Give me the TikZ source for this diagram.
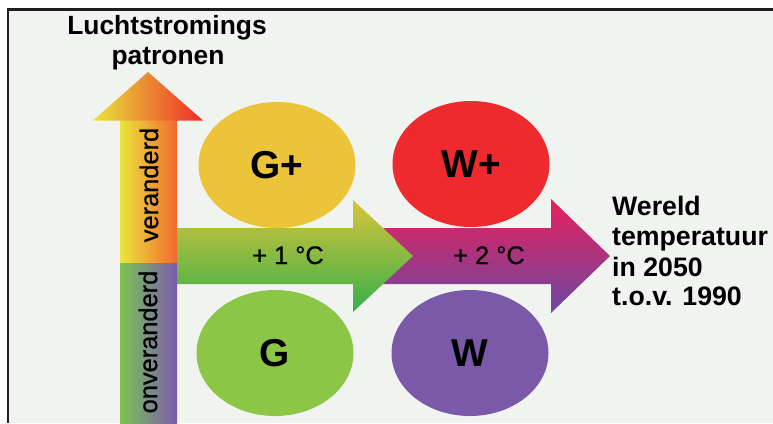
\documentclass[tikz,border=0pt]{standalone}
\usepackage{fontspec}
\setmainfont{Liberation Sans}
\newfontfamily\semibf[FakeBold=0.7]{Liberation Sans}
\usetikzlibrary{shapes.geometric}
\definecolor{bgc}{HTML}{F1F3F1}
\definecolor{gplus}{HTML}{EBC43A}
\definecolor{wplus}{HTML}{EE2A2E}
\definecolor{gcol}{HTML}{8CC646}
\definecolor{wcol}{HTML}{7A5AA8}
\definecolor{yel}{HTML}{E9E53B}
\definecolor{ora}{HTML}{F2A533}
\definecolor{orared}{HTML}{F26A2E}
\definecolor{redd}{HTML}{EE2A2A}
\definecolor{lgreen}{HTML}{7CC354}
\definecolor{lpurple}{HTML}{7A5AB0}
\definecolor{aonetop}{HTML}{D8C43A}
\definecolor{aonemid}{HTML}{A2CB47}
\definecolor{aonebot}{HTML}{36B04A}
\definecolor{atwotop}{HTML}{E8205A}
\definecolor{atwomid}{HTML}{BE349C}
\definecolor{atwobot}{HTML}{6C48A4}
\tikzset{
  blob/.style={ellipse, minimum width=157bp, minimum height=126bp, inner sep=0pt,
    font=\fontsize{39}{40}\selectfont\bfseries},
  bigtxt/.style={inner sep=0pt, anchor=base, font=\fontsize{26.5}{30}\selectfont\bfseries},
  rtxt/.style={inner sep=0pt, anchor=base west, font=\fontsize{26.8}{30}\selectfont\bfseries},
  midtxt/.style={inner sep=0pt, anchor=base, font=\fontsize{25.5}{28}\selectfont\semibf},
  vtxt/.style={inner sep=0pt, rotate=90, font=\fontsize{25.5}{28}\selectfont\semibf},
  frame/.style={line width=2.7bp, draw={black!88}}
}
\begin{document}
\begin{tikzpicture}[x=1bp,y=-1bp]
\useasboundingbox (0,0) rectangle (773,423);
\fill[white] (0,0) rectangle (773,423);
\fill[bgc] (8,9.5) rectangle (773,423);
\draw[frame] (8,423) -- (8,9.5) -- (773,9.5);

% arrow 2 (behind)
\shade[top color=atwotop, middle color=atwomid, bottom color=atwobot]
  (360,228) -- (551,228) -- (551,199) -- (610,256) -- (551,313) -- (551,284) -- (360,284) -- cycle;
% arrow 1
\shade[top color=aonetop, middle color=aonemid, bottom color=aonebot]
  (177,228) -- (353,228) -- (353,200) -- (413,256) -- (353,312) -- (353,284) -- (177,284) -- cycle;
% vertical arrow
\shade[left color=yel, middle color=ora, right color=orared]
  (120,263) -- (120,119) -- (177,119) -- (177,263) -- cycle;
\shade[left color=yel, middle color=ora, right color=redd]
  (93,120.5) -- (148,72) -- (203,120.5) -- cycle;
\shade[left color=lgreen, right color=lpurple]
  (120,263) rectangle (177,423);

% ellipses
\node[blob, fill=gplus] (gp) at (277,165) {G+};
\node[blob, fill=wplus] (wp) at (471,164) {W+};
\node[blob, fill=gcol] (g) at (275,353) {G};
\node[blob, fill=wcol] (w) at (470,353) {W};

% texts
\node[bigtxt] (t1) at (167,34) {Luchtstromings};
\node[bigtxt] (t2) at (168,64) {patronen};
\node[midtxt] (c1) at (288,264) {+ 1 °C};
\node[midtxt] (c2) at (489,264) {+ 2 °C};
\node[vtxt] (v1) at (149,185) {veranderd};
\node[vtxt] (v2) at (148,342) {onveranderd};
\node[rtxt] (r1) at (612,215) {Wereld};
\node[rtxt] (r2) at (612,245) {temperatuur};
\node[rtxt] (r3) at (612,276) {in 2050};
\node[rtxt] (r4) at (612,305) {t.o.v. 1990};
\end{tikzpicture}
\end{document}
